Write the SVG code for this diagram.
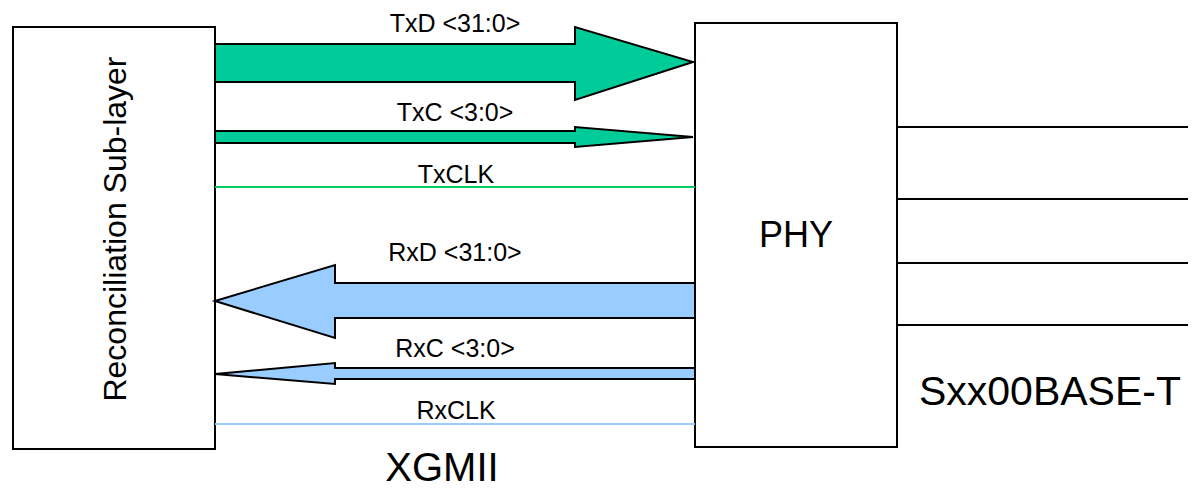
<svg xmlns="http://www.w3.org/2000/svg" width="1192" height="490" viewBox="0 0 1192 490">
<style>
.box{fill:#fff;stroke:#000;stroke-width:2}
.tx{fill:#00CC99;stroke:#000;stroke-width:2;stroke-linejoin:miter}
.rx{fill:#99CCFF;stroke:#000;stroke-width:2;stroke-linejoin:miter}
.lbl{font-family:"Liberation Sans",Arial,sans-serif;font-size:25px;fill:#000;text-anchor:middle}
.big{font-family:"Liberation Sans",Arial,sans-serif;fill:#000}
.wire{stroke:#000;stroke-width:2}
</style>
<rect width="1192" height="490" fill="#fff"/>
<g id="rs">
<rect class="box" x="13" y="27" width="202" height="422"/>
<text class="big" font-size="32" text-anchor="middle" transform="translate(126,229) rotate(-90)">Reconciliation Sub-layer</text>
</g>
<g id="phy">
<rect class="box" x="695" y="23" width="202" height="424"/>
<text class="big" font-size="36" text-anchor="middle" x="796" y="247">PHY</text>
</g>
<g id="connectors">
<polygon class="tx" points="215,44 575,44 575,27 693,62 575,100 575,82 215,82"/>
<polygon class="tx" points="215,131 575,131 575,127 693,137 575,147 575,143 215,143"/>
<line x1="215" y1="187" x2="695" y2="187" stroke="#00CC66" stroke-width="2"/>
<polygon class="rx" points="215,301 335,265 335,283 695,283 695,318 335,318 335,338"/>
<polygon class="rx" points="215,374 335,363 335,368 695,368 695,379 335,379 335,384"/>
<line x1="215" y1="424" x2="695" y2="424" stroke="#99CCFF" stroke-width="2"/>
<line class="wire" x1="897" y1="127" x2="1188" y2="127"/>
<line class="wire" x1="897" y1="199" x2="1188" y2="199"/>
<line class="wire" x1="897" y1="263" x2="1188" y2="263"/>
<line class="wire" x1="897" y1="325" x2="1188" y2="325"/>
</g>
<g id="labels">
<text class="lbl" x="455" y="32">TxD &lt;31:0&gt;</text>
<text class="lbl" x="455" y="121">TxC &lt;3:0&gt;</text>
<text class="lbl" x="456" y="183">TxCLK</text>
<text class="lbl" x="455" y="261">RxD &lt;31:0&gt;</text>
<text class="lbl" x="455" y="357">RxC &lt;3:0&gt;</text>
<text class="lbl" x="456" y="419">RxCLK</text>
<text class="big" font-size="40" text-anchor="middle" x="442" y="481">XGMII</text>
<text class="big" font-size="41" text-anchor="middle" x="1050" y="405">Sxx00BASE-T</text>
</g>
</svg>
